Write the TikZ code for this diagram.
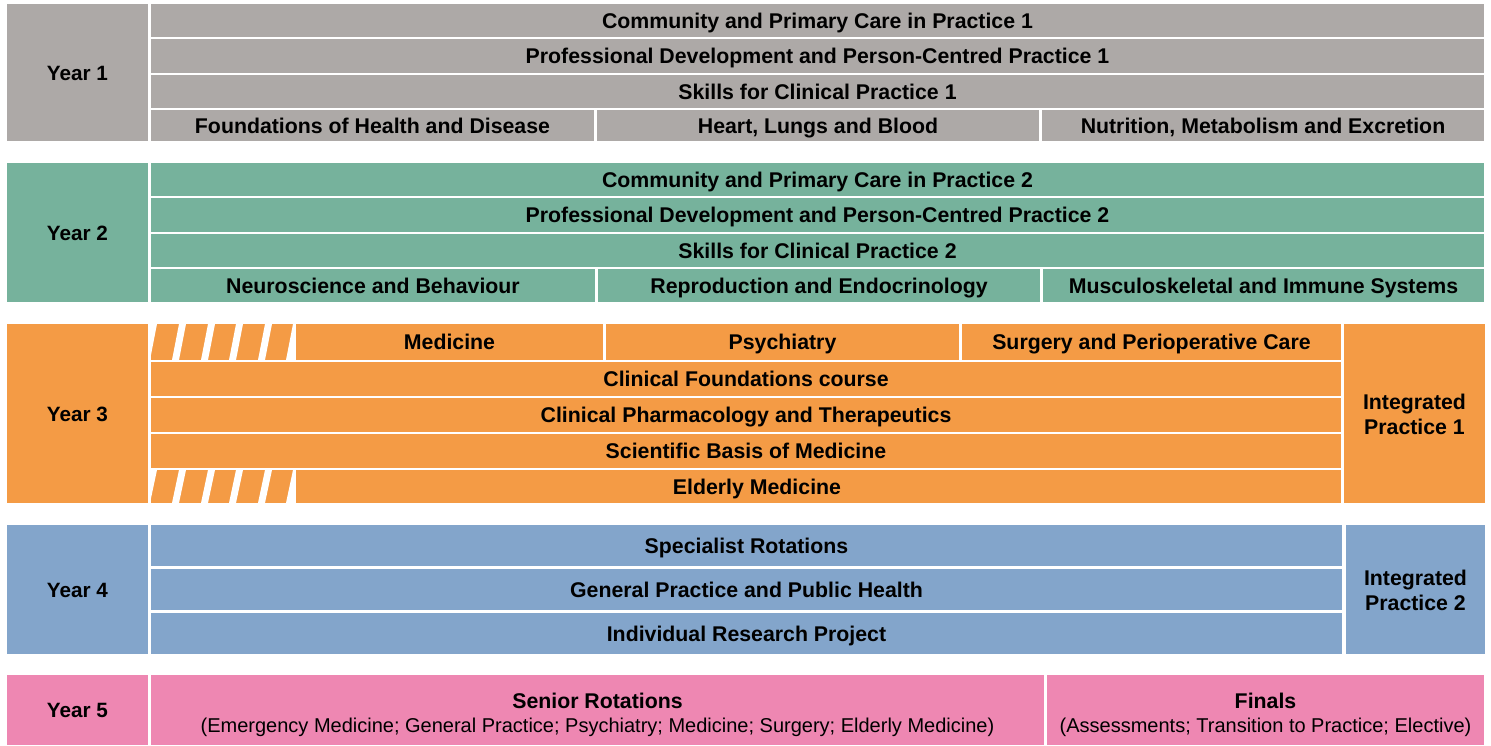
\documentclass[tikz,border=0pt]{standalone}
\usepackage{fontspec}
\setmainfont{Liberation Sans}
\definecolor{cgray}{RGB}{173,169,167}
\definecolor{cgreen}{RGB}{118,178,156}
\definecolor{corange}{RGB}{244,155,69}
\definecolor{cblue}{RGB}{131,165,203}
\definecolor{cpink}{RGB}{238,135,178}
\tikzset{
  cell/.style={draw=none,inner sep=0pt,outer sep=0pt,align=center,text=black,
    text height=16pt,text depth=1pt,
    font=\bfseries\fontsize{21.3}{25}\selectfont},
  yearlab/.style={font=\bfseries\fontsize{20.7}{25}\selectfont},
  multi/.style={text height=,text depth=},
  plain/.style={inner sep=0pt,outer sep=0pt,text=black,anchor=base},
  titletext/.style={plain,font=\bfseries\fontsize{21.3}{25}\selectfont},
  subtext/.style={plain,font=\fontsize{20}{24}\selectfont}
}
\newcommand\mycell[8][]{%
  \pgfmathsetmacro\cw{#5-#3}\pgfmathsetmacro\ch{#6-#4}%
  \node[cell,fill=#7,minimum width=\cw pt,minimum height=\ch pt,#1] (#2) at ({(#3+#5)/2},{(#4+#6)/2}) {#8};}
\newcommand\mystripes[2]{%
  \begin{scope}
    \clip (151,#1) rectangle (293,#2);
    \foreach \b in {143,172,201,229,258,286} {
      \fill[white] (\b,#2) -- (\b+7,#2) -- (\b+14,#1) -- (\b+7,#1) -- cycle;
    }
  \end{scope}}
\begin{document}
\begin{tikzpicture}[x=1pt,y=-1pt]
\useasboundingbox[fill=white] (0,0) rectangle (1491,745);
% Year 1
\mycell[yearlab]{y1}{7}{4}{148}{141}{cgray}{Year 1}
\mycell{y1a}{151}{4}{1484}{37}{cgray}{Community and Primary Care in Practice 1}
\mycell{y1b}{151}{39}{1484}{73}{cgray}{Professional Development and Person-Centred Practice 1}
\mycell{y1c}{151}{75}{1484}{108}{cgray}{Skills for Clinical Practice 1}
\mycell{y1d}{151}{110}{594}{141}{cgray}{Foundations of Health and Disease}
\mycell{y1e}{597}{110}{1039}{141}{cgray}{Heart, Lungs and Blood}
\mycell{y1f}{1042}{110}{1484}{141}{cgray}{Nutrition, Metabolism and Excretion}
% Year 2
\mycell[yearlab]{y2}{7}{163}{148}{302}{cgreen}{Year 2}
\mycell{y2a}{151}{163}{1484}{196}{cgreen}{Community and Primary Care in Practice 2}
\mycell{y2b}{151}{198}{1484}{232}{cgreen}{Professional Development and Person-Centred Practice 2}
\mycell{y2c}{151}{234}{1484}{267}{cgreen}{Skills for Clinical Practice 2}
\mycell{y2d}{151}{269}{595}{302}{cgreen}{Neuroscience and Behaviour}
\mycell{y2e}{598}{269}{1040}{302}{cgreen}{Reproduction and Endocrinology}
\mycell{y2f}{1043}{269}{1484}{302}{cgreen}{Musculoskeletal and Immune Systems}
% Year 3
\mycell[yearlab]{y3}{7}{324}{148}{503}{corange}{Year 3}
\mycell{y3s1}{151}{324}{293}{360}{corange}{}
\mystripes{324}{360}
\mycell{y3a}{296}{324}{603}{360}{corange}{Medicine}
\mycell{y3b}{606}{324}{959}{360}{corange}{Psychiatry}
\mycell{y3c}{962}{324}{1341}{360}{corange}{Surgery and Perioperative Care}
\mycell{y3d}{151}{362}{1341}{396}{corange}{Clinical Foundations course}
\mycell{y3e}{151}{398}{1341}{432}{corange}{Clinical Pharmacology and Therapeutics}
\mycell{y3f}{151}{434}{1341}{468}{corange}{Scientific Basis of Medicine}
\mycell{y3s5}{151}{470}{293}{503}{corange}{}
\mystripes{470}{503}
\mycell{y3g}{296}{470}{1341}{503}{corange}{}
\node[titletext] (y3gt) at (757,494) {Elderly Medicine};
\mycell{ip1}{1344}{324}{1485}{503}{corange}{}
\node[titletext] (ip1t) at (1414.5,409) {Integrated};
\node[titletext] (ip1u) at (1414.5,434) {Practice 1};
% Year 4
\mycell[yearlab]{y4}{7}{525}{148}{654}{cblue}{Year 4}
\mycell{y4a}{151}{525}{1342}{566}{cblue}{Specialist Rotations}
\mycell{y4b}{151}{569}{1342}{610}{cblue}{General Practice and Public Health}
\mycell{y4c}{151}{613}{1342}{654}{cblue}{Individual Research Project}
\mycell{ip2}{1346}{525}{1485}{654}{cblue}{}
\node[titletext] (ip2t) at (1415.5,585) {Integrated};
\node[titletext] (ip2u) at (1415.5,610) {Practice 2};
% Year 5
\mycell[yearlab]{y5}{7}{675}{148}{745}{cpink}{Year 5}
\mycell{y5a}{151}{675}{1044}{745}{cpink}{}
\node[titletext] (y5at) at (597.5,708) {Senior Rotations};
\node[subtext] (y5as) at (597.5,732) {(Emergency Medicine; General Practice; Psychiatry; Medicine; Surgery; Elderly Medicine)};
\mycell{y5b}{1047}{675}{1484}{745}{cpink}{}
\node[titletext] (y5bt) at (1265.5,708) {Finals};
\node[subtext] (y5bs) at (1265.5,732) {(Assessments; Transition to Practice; Elective)};
\end{tikzpicture}
\end{document}
